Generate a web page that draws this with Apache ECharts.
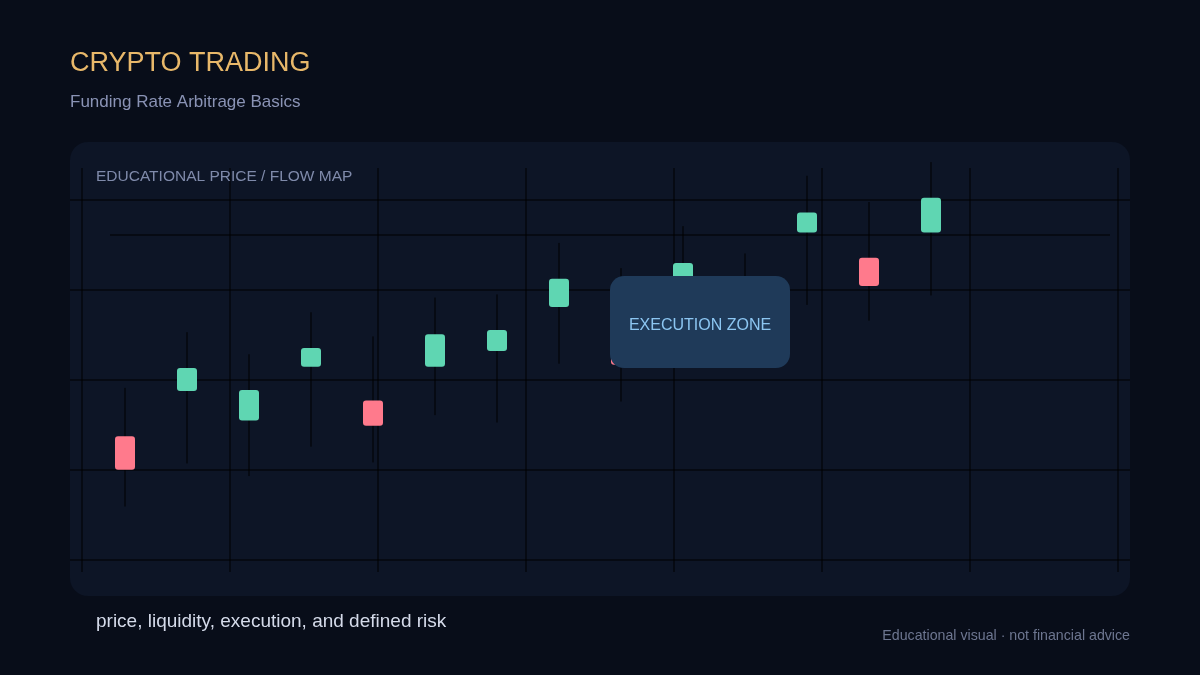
<!DOCTYPE html>
<html>
<head>
<meta charset="utf-8">
<script src="https://cdn.jsdelivr.net/npm/echarts@6/dist/echarts.min.js"></script>
<style>
html,body{margin:0;padding:0;background:#080d19;}
#main{width:1200px;height:675px;}
</style>
</head>
<body>
<div id="main"></div>
<script>
// candle data (price units)
var sessions = ['S1','S2','S3','S4','S5','S6','S7','S8','S9','S10','S11','S12','S13','S14'];
var opens  = [103.7, 108.0, 105.2, 110.3, 107.1, 110.3, 111.8, 116.0, 113.8, 117.6, 115.2, 123.1, 120.7, 123.1];
var closes = [100.5, 110.2, 108.1, 112.1, 104.7, 113.4, 113.8, 118.7, 110.5, 120.2, 117.8, 125.0, 118.0, 126.4];
var lows   = [ 97.0, 101.1,  99.9, 102.7, 101.2, 105.7, 105.0, 110.6, 107.0, 113.8, 111.9, 116.2, 114.7, 117.1];
var highs  = [108.3, 113.6, 111.5, 115.5, 113.2, 116.9, 117.2, 122.1, 119.7, 123.7, 121.1, 128.5, 126.0, 129.8];

var candles = sessions.map(function(s, i){
    return [i, opens[i], closes[i], lows[i], highs[i]];
});

var panelFill = '#0d1526';
var lineCol = '#000000';
var font = '"Liberation Sans", Arial, sans-serif';

// grid lines of the panel (decoration)
var deco = [];
[200, 290, 380, 470, 560].forEach(function(y){
    deco.push({type:'line', z:1, shape:{x1:70,y1:y,x2:1130,y2:y}, style:{stroke:lineCol,lineWidth:1}});
});
[82, 230, 378, 526, 674, 822, 970, 1118].forEach(function(x){
    deco.push({type:'line', z:1, shape:{x1:x,y1:168,x2:x,y2:572}, style:{stroke:lineCol,lineWidth:1}});
});
deco.push({type:'line', z:1, shape:{x1:110,y1:235,x2:1110,y2:235}, style:{stroke:lineCol,lineWidth:1}});

var myChart = echarts.init(document.getElementById('main'));
var option = {
    backgroundColor: '#080d19',
    animation: false,
    graphic: [
        {type:'rect', z:0, shape:{x:70,y:142,width:1060,height:454,r:18}, style:{fill:panelFill}},
        {type:'text', z:5, left:70, top:50, style:{text:'CRYPTO TRADING', fill:'#e8b86a', font:'27px ' + font}},
        {type:'text', z:5, left:70, top:94, style:{text:'Funding Rate Arbitrage Basics', fill:'#8a93b5', font:'17px ' + font}},
        {type:'text', z:5, left:96, top:169, style:{text:'EDUCATIONAL PRICE / FLOW MAP', fill:'#7f8aaa', font:'15.5px ' + font}},
        {type:'text', z:5, left:96, top:612, style:{text:'price, liquidity, execution, and defined risk', fill:'#d5dbea', font:'19px ' + font}},
        {type:'text', z:5, right:70, top:629, style:{text:'Educational visual · not financial advice', fill:'#6d7690', font:'14.2px ' + font}},
        {type:'rect', zlevel:1, z:50, shape:{x:610,y:276,width:180,height:92,r:14}, style:{fill:'#1f3a59'}},
        {type:'text', zlevel:1, z:51, style:{text:'EXECUTION ZONE', x:700, y:326, align:'center', verticalAlign:'middle', fill:'#8cc6f2', font:'16px ' + font}}
    ].concat(deco),
    grid: {left: 94, right: 238, top: 160, bottom: 95},
    xAxis: {type:'category', data: sessions, boundaryGap: true, show: false},
    yAxis: {type:'value', min: 90, max: 130, show: false},
    series: [{
        type: 'custom',
        z: 10,
        data: candles,
        renderItem: function(params, api){
            var x = api.value(0);
            var o = api.coord([x, api.value(1)]);
            var c = api.coord([x, api.value(2)]);
            var lo = api.coord([x, api.value(3)]);
            var hi = api.coord([x, api.value(4)]);
            var up = api.value(2) >= api.value(1);
            var top = Math.min(o[1], c[1]);
            var h = Math.abs(o[1] - c[1]);
            return {
                type: 'group',
                children: [
                    {type:'line', shape:{x1:o[0],y1:hi[1],x2:o[0],y2:lo[1]}, style:{stroke:'#000000',lineWidth:1}},
                    {type:'rect', shape:{x:o[0]-10,y:top,width:20,height:h,r:3}, style:{fill: up ? '#5fd6b2' : '#ff7a8c'}}
                ]
            };
        }
    }]
};
myChart.setOption(option);
</script>
</body>
</html>
